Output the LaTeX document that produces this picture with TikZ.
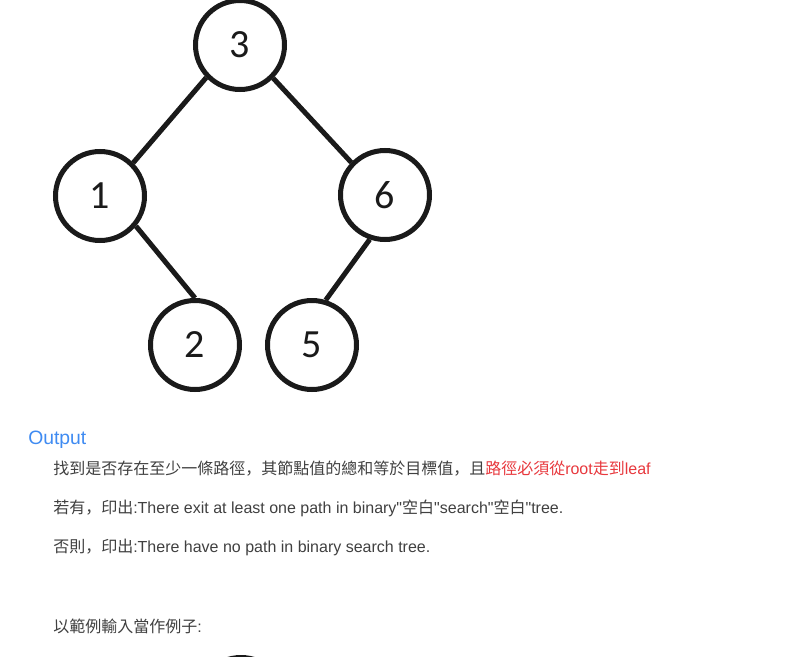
\documentclass[tikz,border=0pt]{standalone}
\usepackage{fontspec}
\setmainfont{Liberation Sans}[Ligatures=TeXOff]
\newfontfamily\cjk{Noto Sans CJK TC}
\newfontfamily\cjkpunct{Noto Sans CJK SC}
\newfontfamily\digitfont{Carlito}
\newcommand\dq{\symbol{34}}
\newcommand\fwcomma{{\cjkpunct ，}}
\definecolor{ink}{HTML}{1A1A1A}
\definecolor{bodytext}{HTML}{404040}
\definecolor{headblue}{HTML}{3F8BF2}
\definecolor{hlred}{HTML}{E8383D}
\begin{document}
\begin{tikzpicture}[x=0.75pt,y=-0.75pt,
  treenode/.style={circle,draw=ink,line width=3.75pt,minimum size=66.75pt,inner sep=0pt,
    font=\digitfont\fontsize{30pt}{33pt}\selectfont,text=ink},
  treeedge/.style={draw=ink,line width=3.75pt},
  bodyline/.style={anchor=base west,inner sep=0pt,text=bodytext,font=\fontsize{12pt}{14pt}\selectfont},
  heading/.style={anchor=base west,inner sep=0pt,text=headblue,font=\fontsize{14.5pt}{17pt}\selectfont}]
\useasboundingbox[fill=white] (0,0) rectangle (786,657);
\begin{scope}
\clip (0,0) rectangle (786,657);
\node[treenode] (n3) at (240,45) {3};
\node[treenode] (n1) at (100,196) {1};
\node[treenode] (n6) at (385,195) {6};
\node[treenode] (n2) at (195,345) {2};
\node[treenode] (n5) at (312,345) {5};
\node[treenode] (nx) at (241,702) {};
\end{scope}
\draw[treeedge] (n3.224) -- (n1.45);
\draw[treeedge] (n3.-45) -- (n6.136);
\draw[treeedge] (n1.-40) -- (n2.90);
\draw[treeedge] (n6.-109) -- (n5.73);
\node[heading] (out) at (28,444) {Output};
\node[bodyline] (l1) at (53,474) {{\cjk 找到是否存在至少一條路徑}\fwcomma{\cjk 其節點值的總和等於目標值}\fwcomma{\cjk 且}\textcolor{hlred}{{\cjk 路徑必須從}root{\cjk 走到}leaf}};
\node[bodyline] (l2) at (53,513) {{\cjk 若有}\fwcomma{\cjk 印出}:There exit at least one path in binary\dq{\cjk 空白}\dq search\dq{\cjk 空白}\dq tree.};
\node[bodyline] (l3) at (53,552) {{\cjk 否則}\fwcomma{\cjk 印出}:There have no path in binary search tree.};
\node[bodyline] (l4) at (53,632) {{\cjk 以範例輸入當作例子}:};
\end{tikzpicture}
\end{document}
